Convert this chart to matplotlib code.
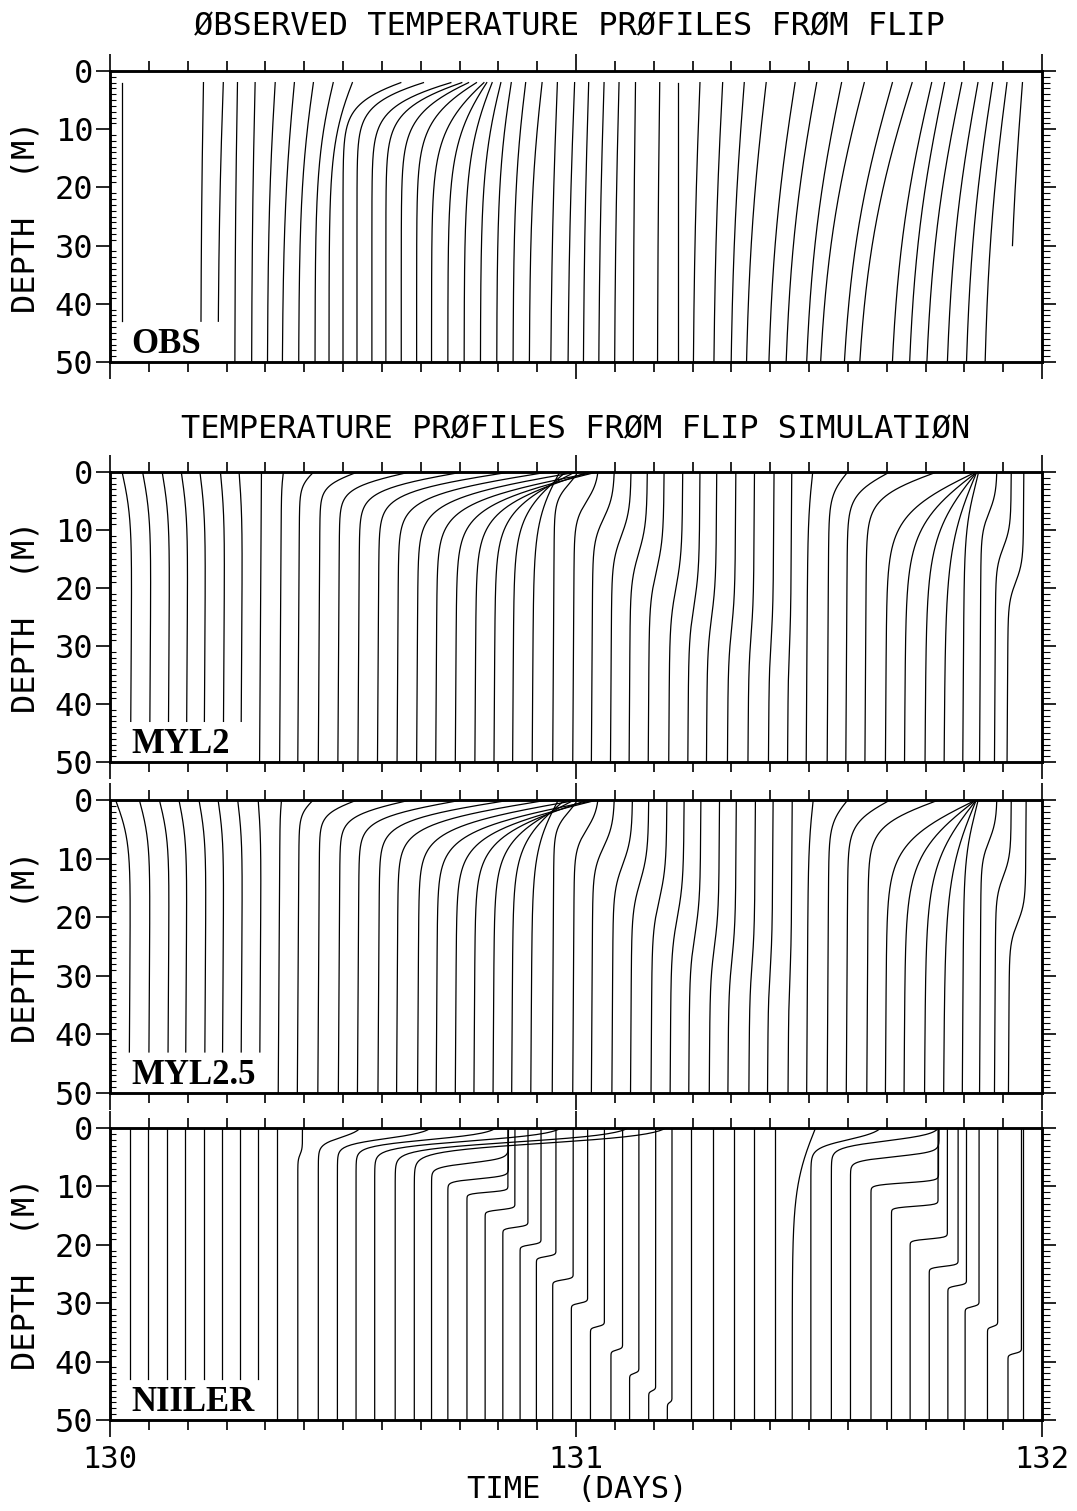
import matplotlib
matplotlib.use("Agg")
import matplotlib.pyplot as plt
import numpy as np

plt.rcParams['font.family'] = ['DejaVu Sans Mono']

########################
## Profile data (time of each profile at 50 m, surface shift, layer depth, layer thickness)
########################

# observed (FLIP)
obs_t = [130.025, 130.195, 130.232, 130.268, 130.304, 130.338, 130.370, 130.405, 130.440, 130.470,
         130.500, 130.530, 130.562, 130.592, 130.625, 130.658, 130.690, 130.725, 130.760, 130.795,
         130.830, 130.865, 130.900, 130.946, 130.983, 131.016, 131.049, 131.083, 131.123, 131.175,
         131.219, 131.252, 131.296, 131.333, 131.366, 131.414, 131.451, 131.495, 131.525, 131.576,
         131.609, 131.679, 131.716, 131.753, 131.797, 131.838, 131.878, 131.930]
obs_dx = [0.0, 0.006, 0.012, 0.006, 0.008, 0.018, 0.028, 0.035, 0.045, 0.06,
          0.20, 0.23, 0.26, 0.24, 0.20, 0.17, 0.14, 0.10, 0.07, 0.05,
          0.035, 0.03, 0.03, 0.015, 0.015, 0.012, 0.012, 0.01, 0.005, 0.005,
          0.0, 0.015, 0.02, 0.03, 0.045, 0.06, 0.07, 0.08, 0.10, 0.11,
          0.12, 0.09, 0.08, 0.08, 0.07, 0.06, 0.05, 0.03]
obs_h = [0.0] * 48
obs_w = [1, 30, 30, 30, 30, 25, 25, 20, 15, 12,
         5, 5, 5.5, 6, 7, 8, 10, 12, 14, 16,
         18, 20, 22, 35, 35, 35, 35, 35, 35, 35,
         35, 35, 35, 35, 35, 35, 35, 35, 35, 35,
         35, 35, 35, 35, 35, 35, 35, 35]
obs_zend = [43, 43, 43] + [50] * 44 + [30]

# MYL2 simulation
myl2_t = [130.044, 130.085, 130.125, 130.164, 130.202, 130.243, 130.281,
          130.321, 130.364, 130.403, 130.447, 130.489, 130.532, 130.574, 130.616, 130.658, 130.699,
          130.741, 130.783, 130.824, 130.864, 130.906,
          130.950, 130.993, 131.033, 131.074, 131.114, 131.155, 131.199, 131.240, 131.280, 131.325,
          131.369, 131.413, 131.454, 131.494, 131.539, 131.579, 131.620, 131.664, 131.705, 131.749,
          131.790, 131.830, 131.866, 131.898, 131.925]
myl2_dx = [-0.022, -0.019, -0.017, -0.015, -0.013, -0.010, -0.008,
           0.0, 0.004, 0.03, 0.08, 0.15, 0.22, 0.28, 0.32, 0.34, 0.34,
           0.30, 0.24, 0.17, 0.11, 0.055,
           0.05, 0.05, 0.045, 0.04, 0.035, 0.03, 0.026, 0.022, 0.018, 0.014,
           0.01, 0.008, 0.005, 0.01, 0.04, 0.09, 0.15, 0.19, 0.151, 0.107,
           0.066, 0.03, 0.033, 0.032, 0.032]
myl2_h = [0] * 22 + [2, 5, 8, 11, 14, 17, 20, 23, 25, 27,
                     28, 29, 30, 0, 0, 0, 0, 0, 0, 0,
                     0, 2, 7, 13, 19]
myl2_w = [8] * 7 + [1, 3, 2.5, 2.5, 2.8, 3.2, 3.6, 4.2, 4.8, 5.4, 6.0, 6.5, 7.0, 7.5, 8.5] + \
         [3, 3.5, 4, 4.5, 5, 5.5, 6, 6, 6, 6, 6, 6, 6, 8, 4, 4, 4.5, 7.5, 9.5, 11, 13, 8, 3.5, 3.5, 3.5]
myl2_zend = [43] * 7 + [50] * 40

# MYL2.5 simulation
myl25_t = [130.041, 130.083, 130.124, 130.162, 130.203, 130.241, 130.281, 130.321,
           130.361, 130.402, 130.446, 130.490, 130.531, 130.575, 130.615, 130.660, 130.700,
           130.741, 130.781, 130.822, 130.862, 130.903,
           130.949, 130.993, 131.033, 131.077, 131.117, 131.161, 131.202, 131.242, 131.286, 131.326,
           131.371, 131.411, 131.455, 131.495, 131.539, 131.580, 131.624, 131.664, 131.704, 131.748,
           131.789, 131.829, 131.866, 131.898, 131.928]
myl25_dx = [-0.033, -0.024, -0.022, -0.018, -0.016, -0.013, -0.011, -0.007,
            0.003, 0.03, 0.08, 0.15, 0.22, 0.28, 0.32, 0.34, 0.34,
            0.30, 0.24, 0.17, 0.11, 0.055,
            0.05, 0.05, 0.045, 0.04, 0.035, 0.03, 0.026, 0.022, 0.018, 0.014,
            0.01, 0.008, 0.005, 0.01, 0.04, 0.09, 0.15, 0.19, 0.15, 0.107,
            0.066, 0.03, 0.033, 0.032, 0.034]
myl25_h = [0] * 22 + [2, 5, 8, 11, 14, 17, 20, 23, 25, 27,
                      28, 29, 30, 0, 0, 0, 0, 0, 0, 0,
                      0, 2, 7, 13, 21]
myl25_w = [7] * 8 + [3, 2.5, 2.5, 2.8, 3.2, 3.6, 4.2, 4.8, 5.4, 6.0, 6.5, 7.0, 7.5, 8.5] + \
          [3, 3.5, 4, 4.5, 5, 5.5, 6, 6, 6, 6, 6, 6, 6, 8, 4, 4, 4.5, 7.5, 9.5, 11, 13, 8, 3.5, 3.5, 3.5]
myl25_zend = [43] * 8 + [50] * 39

# NIILER simulation
niiler_t = [130.043, 130.081, 130.122, 130.160, 130.201, 130.240, 130.278, 130.318,
            130.359, 130.403, 130.447, 130.488, 130.528, 130.568, 130.612, 130.653, 130.690,
            130.725, 130.766, 130.805, 130.843, 130.880, 130.915,
            130.950, 130.990, 131.031, 131.075, 131.115, 131.156, 131.196, 131.247, 131.295, 131.339,
            131.383, 131.427, 131.464, 131.504, 131.548, 131.589, 131.633, 131.677, 131.717, 131.758,
            131.798, 131.835, 131.883, 131.927, 131.960]
niiler_dx = [0] * 8 + [0, 0.01, 0.09, 0.20, 0.30, 0.40, 0.50, 0.54, 0.165,
                       0.13, 0.088, 0.064, 0.054, 0.045, 0.042,
                       0.044, 0.035, 0.03, 0.025, 0.02, 0.015, 0.01, 0, 0, 0,
                       0, 0, 0.05, 0.15, 0.23, 0.19, 0.145, 0.10, 0.08, 0.062,
                       0.04, 0.03, 0.022, 0.029, 0]
niiler_h = [0] * 8 + [0, 4.5, 1.6, 1.8, 2.0, 2.2, 2.4, 2.6, 6.0,
                      8.7, 11, 14, 17, 20, 22,
                      26, 30, 34, 38, 42, 45, 47, 0, 0, 0,
                      0, 0, 0, 2.0, 2.2, 4.9, 9.4, 13.4, 19, 23.7,
                      27, 30.6, 34, 38.6, 0]
niiler_w = [1] * 8 + [1, 1, 1.3, 1.2, 1.2, 1.3, 1.4, 1.5, 0.8,
                      0.5, 0.3, 0.3, 0.3, 0.3, 0.3,
                      0.3, 0.3, 0.3, 0.3, 0.3, 0.3, 0.3, 1, 1, 1,
                      1, 1, 10, 1.5, 1.2, 0.8, 0.4, 0.3, 0.3, 0.3,
                      0.3, 0.3, 0.3, 0.3, 1]
niiler_zend = [43] * 8 + [50] * 40

FIG_W, FIG_H = 1077, 1511


def profile_x(base, dx, h, w, z):
    '''
    Shift of one temperature profile: mixed layer of depth h over a
    transition of thickness w, zero shift at 50 m
    '''
    g = (1 + np.tanh((h - z) / w)) / (1 + np.tanh(h / w))
    g50 = (1 + np.tanh((h - 50.0) / w)) / (1 + np.tanh(h / w))
    return base + dx * (g - g50) / (1 - g50)


def make_panel(top_px, bottom_px, t, dx, h, w, zend, ztop, tilt, name, bottom_labels=False):
    ax = fig.add_axes([110 / FIG_W, 1 - bottom_px / FIG_H,
                       (1042 - 110) / FIG_W, (bottom_px - top_px) / FIG_H])
    # Iterate over the profiles
    for i in range(len(t)):
        z = np.linspace(ztop, zend[i], 400)
        x = profile_x(t[i], dx[i], h[i], w[i], z) + tilt * (50 - z) / 50
        ax.plot(x, z, color='black', lw=0.9)
    ax.set_xlim(130, 132)
    ax.set_ylim(50, 0)
    for s in ax.spines.values():
        s.set_linewidth(1.8)
    # Ticks
    ax.set_xticks([130, 131, 132])
    ax.set_xticks(np.arange(130, 132.001, 1 / 12), minor=True)
    ax.set_yticks(range(0, 51, 10))
    ax.set_yticks(range(0, 51), minor=True)
    ax.tick_params(axis='x', which='both', direction='out', top=True, bottom=True,
                   labelbottom=bottom_labels, width=1.2, labelsize=22, pad=6)
    ax.tick_params(axis='x', which='major', length=12)
    ax.tick_params(axis='x', which='minor', length=7)
    ax.tick_params(axis='y', which='major', direction='out', length=10, width=1.2,
                   right=False, labelsize=23, pad=2)
    ax.tick_params(axis='y', which='minor', direction='in', length=4, width=0.8, right=False)
    axr = ax.twinx()
    axr.set_ylim(50, 0)
    axr.set_yticks(range(0, 51, 10))
    axr.set_yticks(range(0, 51), minor=True)
    axr.tick_params(axis='y', which='major', direction='out', length=10, width=1.2, labelright=False)
    axr.tick_params(axis='y', which='minor', direction='out', length=6, width=0.8)
    for s in axr.spines.values():
        s.set_linewidth(1.8)
    # Labels
    ax.set_ylabel("DEPTH  (M)", fontsize=23)
    ax.yaxis.set_label_coords(-0.073, 0.5)
    ax.text(130.045, 48.5, name, family='Liberation Serif', fontweight='bold',
            fontsize=25, ha='left', va='baseline')
    return ax


fig = plt.figure(figsize=(FIG_W / 100, FIG_H / 100), dpi=100)

make_panel(71, 362, obs_t, obs_dx, obs_h, obs_w, obs_zend, 2.0, 0.0, "OBS")
make_panel(472, 762, myl2_t, myl2_dx, myl2_h, myl2_w, myl2_zend, 0.0, 0.004, "MYL2")
make_panel(800, 1093, myl25_t, myl25_dx, myl25_h, myl25_w, myl25_zend, 0.0, 0.004, "MYL2.5")
make_panel(1128, 1420, niiler_t, niiler_dx, niiler_h, niiler_w, niiler_zend, 0.0, 0.0,
           "NIILER", bottom_labels=True)

# Titles
fig.text(569 / FIG_W, 1 - 27 / FIG_H, "ØBSERVED TEMPERATURE PRØFILES FRØM FLIP",
         fontsize=23, ha='center', va='center')
fig.text(576 / FIG_W, 1 - 430 / FIG_H, "TEMPERATURE PRØFILES FRØM FLIP SIMULATIØN",
         fontsize=23, ha='center', va='center')
fig.text(577 / FIG_W, 1 - 1490 / FIG_H, "TIME  (DAYS)", fontsize=22, ha='center', va='center')

fig.savefig("out.png", dpi=100, facecolor='white')
